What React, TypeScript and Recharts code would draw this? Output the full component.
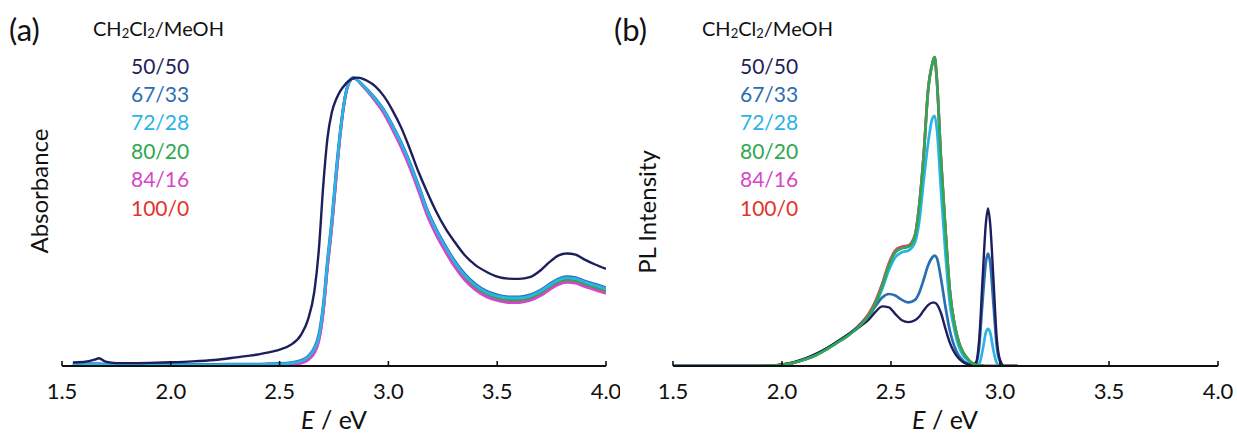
import { LineChart, Line, XAxis, YAxis } from "recharts"

const ticks = [1.5, 2.0, 2.5, 3.0, 3.5, 4.0]
const ratios = ["50/50", "67/33", "72/28", "80/20", "84/16", "100/0"]
const colors = ["#1d1f5c", "#2b6db2", "#2bb3e6", "#2fa84f", "#d646c8", "#e2352b"]

// absorption spectra (normalised), shared energy grid in eV
const absE = [
  1.55, 1.6, 1.65, 1.67, 1.7, 1.75, 1.8, 1.9, 2.0, 2.1,
  2.2, 2.3, 2.4, 2.45, 2.5, 2.55, 2.6, 2.63, 2.66, 2.68,
  2.7, 2.72, 2.74, 2.76, 2.78, 2.8, 2.82, 2.84, 2.86, 2.88,
  2.9, 2.94, 2.98, 3.02, 3.06, 3.1, 3.14, 3.18, 3.22, 3.26,
  3.3, 3.35, 3.4, 3.45, 3.5, 3.55, 3.6, 3.65, 3.7, 3.74,
  3.78, 3.82, 3.86, 3.9, 3.95, 4.0,
]
const abs50 = [
  0.012, 0.014, 0.022, 0.027, 0.015, 0.01, 0.01, 0.011, 0.013, 0.016,
  0.021, 0.03, 0.04, 0.047, 0.057, 0.073, 0.11, 0.16, 0.26, 0.4,
  0.62, 0.79, 0.88, 0.925, 0.955, 0.975, 0.99, 0.998, 1.0, 0.997,
  0.99, 0.97, 0.935, 0.885, 0.825, 0.75, 0.67, 0.6, 0.535, 0.48,
  0.435, 0.385, 0.35, 0.327, 0.31, 0.303, 0.302, 0.308, 0.332, 0.36,
  0.383, 0.39, 0.386, 0.37, 0.352, 0.337,
]
const abs67 = [
  0.008, 0.008, 0.008, 0.008, 0.007, 0.007, 0.007, 0.006, 0.006, 0.006,
  0.006, 0.007, 0.007, 0.008, 0.009, 0.012, 0.02, 0.033, 0.065, 0.11,
  0.21, 0.37, 0.51, 0.68, 0.825, 0.932, 0.986, 1.0, 0.99, 0.976,
  0.962, 0.928, 0.888, 0.834, 0.774, 0.704, 0.624, 0.54, 0.475, 0.42,
  0.37, 0.32, 0.284, 0.26, 0.247, 0.24, 0.24, 0.247, 0.264, 0.284,
  0.302, 0.31, 0.307, 0.296, 0.284, 0.272,
]
const abs72 = [
  0.006, 0.006, 0.006, 0.006, 0.005, 0.005, 0.005, 0.004, 0.004, 0.004,
  0.004, 0.005, 0.005, 0.006, 0.007, 0.01, 0.017, 0.03, 0.06, 0.1,
  0.2, 0.36, 0.5, 0.67, 0.82, 0.93, 0.985, 1.0, 0.99, 0.975,
  0.96, 0.925, 0.885, 0.83, 0.77, 0.7, 0.62, 0.535, 0.47, 0.415,
  0.365, 0.315, 0.28, 0.256, 0.243, 0.236, 0.236, 0.243, 0.26, 0.28,
  0.298, 0.306, 0.303, 0.292, 0.28, 0.268,
]
const abs80 = [
  0.003, 0.003, 0.003, 0.003, 0.003, 0.003, 0.003, 0.002, 0.002, 0.002,
  0.002, 0.003, 0.003, 0.004, 0.005, 0.008, 0.014, 0.026, 0.055, 0.095,
  0.19, 0.35, 0.49, 0.66, 0.815, 0.928, 0.984, 1.0, 0.99, 0.974,
  0.958, 0.922, 0.88, 0.824, 0.763, 0.692, 0.612, 0.527, 0.462, 0.407,
  0.357, 0.307, 0.272, 0.248, 0.235, 0.228, 0.228, 0.235, 0.252, 0.272,
  0.29, 0.298, 0.295, 0.284, 0.272, 0.26,
]
const abs84 = [
  0.001, 0.001, 0.001, 0.001, 0.001, 0.001, 0.001, 0.001, 0.001, 0.001,
  0.001, 0.001, 0.001, 0.002, 0.003, 0.005, 0.01, 0.02, 0.045, 0.085,
  0.18, 0.34, 0.48, 0.65, 0.81, 0.925, 0.983, 1.0, 0.99, 0.973,
  0.956, 0.918, 0.875, 0.818, 0.756, 0.685, 0.604, 0.519, 0.454, 0.399,
  0.349, 0.299, 0.264, 0.24, 0.227, 0.22, 0.22, 0.227, 0.244, 0.264,
  0.282, 0.29, 0.287, 0.276, 0.264, 0.252,
]
const abs100 = [
  0.002, 0.002, 0.002, 0.002, 0.002, 0.002, 0.002, 0.002, 0.002, 0.002,
  0.002, 0.002, 0.002, 0.003, 0.004, 0.006, 0.012, 0.023, 0.05, 0.09,
  0.185, 0.345, 0.485, 0.655, 0.812, 0.926, 0.983, 1.0, 0.99, 0.973,
  0.957, 0.92, 0.877, 0.821, 0.76, 0.688, 0.608, 0.523, 0.458, 0.403,
  0.353, 0.303, 0.268, 0.244, 0.231, 0.224, 0.224, 0.231, 0.248, 0.268,
  0.286, 0.294, 0.291, 0.28, 0.268, 0.256,
]

// PL spectra (normalised)
const plE = [
  1.5, 1.6, 1.7, 1.8, 1.9, 1.95, 2.0, 2.05, 2.1, 2.15,
  2.2, 2.25, 2.3, 2.35, 2.4, 2.43, 2.46, 2.49, 2.52, 2.55,
  2.58, 2.61, 2.63, 2.65, 2.67, 2.69, 2.7, 2.71, 2.73, 2.75,
  2.77, 2.79, 2.81, 2.83, 2.85, 2.87, 2.89, 2.905, 2.92, 2.935,
  2.945, 2.955, 2.97, 2.985, 3.0, 3.02, 3.05, 3.08,
]
const pl50 = [
  0, 0, 0, 0, 0, 0.001, 0.005, 0.012, 0.023, 0.038,
  0.056, 0.077, 0.1, 0.124, 0.152, 0.176, 0.193, 0.19, 0.168, 0.148,
  0.142, 0.148, 0.16, 0.18, 0.197, 0.205, 0.205, 0.2, 0.17, 0.12,
  0.075, 0.045, 0.025, 0.013, 0.006, 0.002, 0.012, 0.09, 0.28, 0.46,
  0.51, 0.46, 0.28, 0.09, 0.02, 0, 0, 0,
]
const pl67 = [
  0, 0, 0, 0, 0, 0.001, 0.004, 0.01, 0.021, 0.035,
  0.054, 0.077, 0.1, 0.128, 0.165, 0.195, 0.222, 0.233, 0.228, 0.214,
  0.206, 0.214, 0.238, 0.28, 0.325, 0.352, 0.357, 0.35, 0.28, 0.19,
  0.114, 0.065, 0.035, 0.018, 0.008, 0.003, 0.006, 0.065, 0.21, 0.335,
  0.364, 0.335, 0.2, 0.065, 0.014, 0, 0, 0,
]
const pl72 = [
  0, 0, 0, 0, 0, 0.001, 0.004, 0.01, 0.02, 0.033,
  0.052, 0.074, 0.097, 0.125, 0.163, 0.2, 0.25, 0.31, 0.352, 0.368,
  0.374, 0.4, 0.47, 0.6, 0.72, 0.802, 0.81, 0.77, 0.56, 0.36,
  0.2, 0.12, 0.065, 0.035, 0.02, 0.008, 0.003, 0.008, 0.05, 0.108,
  0.12, 0.108, 0.05, 0.01, 0, 0, 0, 0,
]
const pl80 = [
  0, 0, 0, 0, 0, 0.001, 0.004, 0.01, 0.02, 0.033,
  0.052, 0.074, 0.097, 0.125, 0.165, 0.205, 0.26, 0.325, 0.368, 0.381,
  0.386, 0.42, 0.52, 0.68, 0.89, 0.98, 1.0, 0.93, 0.66, 0.44,
  0.243, 0.14, 0.08, 0.045, 0.025, 0.01, 0.004, 0.002, 0.001, 0,
  0, 0, 0, 0, 0, 0, 0, 0,
]
const pl84 = [
  0, 0, 0, 0, 0, 0.001, 0.004, 0.01, 0.02, 0.033,
  0.052, 0.075, 0.098, 0.127, 0.168, 0.208, 0.263, 0.328, 0.37, 0.383,
  0.388, 0.422, 0.522, 0.682, 0.89, 0.98, 1.0, 0.93, 0.66, 0.44,
  0.243, 0.14, 0.08, 0.045, 0.025, 0.01, 0.004, 0.002, 0.001, 0,
  0, 0, 0, 0, 0, 0, 0, 0,
]
const pl100 = [
  0, 0, 0, 0, 0, 0.001, 0.004, 0.01, 0.02, 0.034,
  0.053, 0.076, 0.1, 0.13, 0.172, 0.212, 0.267, 0.332, 0.374, 0.386,
  0.39, 0.425, 0.525, 0.685, 0.892, 0.98, 1.0, 0.93, 0.66, 0.44,
  0.243, 0.14, 0.08, 0.045, 0.025, 0.01, 0.004, 0.002, 0.001, 0,
  0, 0, 0, 0, 0, 0, 0, 0,
]

const absData = absE.map((e, i) => ({
  e, s50: abs50[i], s67: abs67[i], s72: abs72[i], s80: abs80[i], s84: abs84[i], s100: abs100[i],
}))
const plData = plE.map((e, i) => ({
  e, s50: pl50[i], s67: pl67[i], s72: pl72[i], s80: pl80[i], s84: pl84[i], s100: pl100[i],
}))

const keys = ["s50", "s67", "s72", "s80", "s84", "s100"]
const font = "Lato, 'Open Sans', sans-serif"

const Tick = (props: any) => {
  const { x, y, payload } = props
  return (
    <g>
      <line x1={x} x2={x} y1={y} y2={y - 5} stroke="#111" strokeWidth={1.6} />
      <text x={x} y={y + 24} textAnchor="middle" dominantBaseline="central" fontSize={22} fontFamily={font} fill="#111">
        {payload.value.toFixed(1)}
      </text>
    </g>
  )
}

const Panel = ({ data, order, ymax, margin, width }: any) => (
  <LineChart width={width} height={435} data={data} margin={margin}>
    <XAxis
      dataKey="e"
      type="number"
      domain={[1.5, 4]}
      ticks={ticks}
      interval={0}
      tickSize={0}
      tickMargin={0}
      tickLine={false}
      tick={<Tick />}
      height={40}
      axisLine={{ stroke: "#111", strokeWidth: 1.8 }}
      allowDataOverflow
    />
    <YAxis
      type="number"
      domain={[0, ymax]}
      width={0}
      tick={false}
      tickLine={false}
      axisLine={{ stroke: "#111", strokeWidth: 1.8 }}
      allowDataOverflow
    />
    {order.map((i: number) => (
      <Line
        key={keys[i]}
        dataKey={keys[i]}
        type="monotone"
        stroke={colors[i]}
        strokeWidth={i === 0 ? 2.4 : 2.7}
        dot={false}
        isAnimationActive={false}
      />
    ))}
  </LineChart>
)

const Legend = ({ x, y }: { x: number; y: number }) => (
  <g fontFamily={font}>
    <text x={x} y={y} dominantBaseline="central" fontSize={20} fill="#111">
      CH<tspan fontSize={13} dy={5}>2</tspan>
      <tspan dy={-5}>Cl</tspan>
      <tspan fontSize={13} dy={5}>2</tspan>
      <tspan dy={-5}>/MeOH</tspan>
    </text>
    {ratios.map((r, i) => (
      <text key={r} x={x + 38} y={y + 37 + i * 28.4} dominantBaseline="central" fontSize={21} fill={colors[i]}>
        {r}
      </text>
    ))}
  </g>
)

const AxisTitle = ({ x, y }: { x: number; y: number }) => (
  <text x={x} y={y} textAnchor="middle" dominantBaseline="central" fontSize={25} fontFamily={font} fill="#111">
    <tspan fontStyle="italic">E</tspan> / eV
  </text>
)

export default function App() {
  return (
    <div style={{ position: "absolute", left: 0, top: 0, width: 1237, height: 435, background: "#fff" }}>
      <div style={{ position: "absolute", left: 0, top: 0 }}>
        <Panel data={absData} order={[5, 3, 4, 1, 2, 0]} ymax={1.2} width={620} margin={{ top: 20, right: 14, bottom: 29, left: 62 }} />
      </div>
      <div style={{ position: "absolute", left: 620, top: 0 }}>
        <Panel data={plData} order={[5, 4, 2, 1, 0, 3]} ymax={1.12} width={617} margin={{ top: 20, right: 19, bottom: 29, left: 53 }} />
      </div>
      <svg width={1237} height={435} style={{ position: "absolute", left: 0, top: 0, pointerEvents: "none" }}>
        <text x={9} y={29} dominantBaseline="central" fontSize={31} fontFamily={font} fill="#111">(a)</text>
        <text x={614} y={29} dominantBaseline="central" fontSize={31} fontFamily={font} fill="#111">(b)</text>
        <Legend x={93} y={28} />
        <Legend x={702} y={28} />
        <text x={38} y={191} transform="rotate(-90 38 191)" textAnchor="middle" dominantBaseline="central" fontSize={24} fontFamily={font} fill="#111">
          Absorbance
        </text>
        <text x={646} y={212} transform="rotate(-90 646 212)" textAnchor="middle" dominantBaseline="central" fontSize={24} fontFamily={font} fill="#111">
          PL Intensity
        </text>
        <AxisTitle x={334} y={419} />
        <AxisTitle x={945} y={419} />
      </svg>
    </div>
  )
}
